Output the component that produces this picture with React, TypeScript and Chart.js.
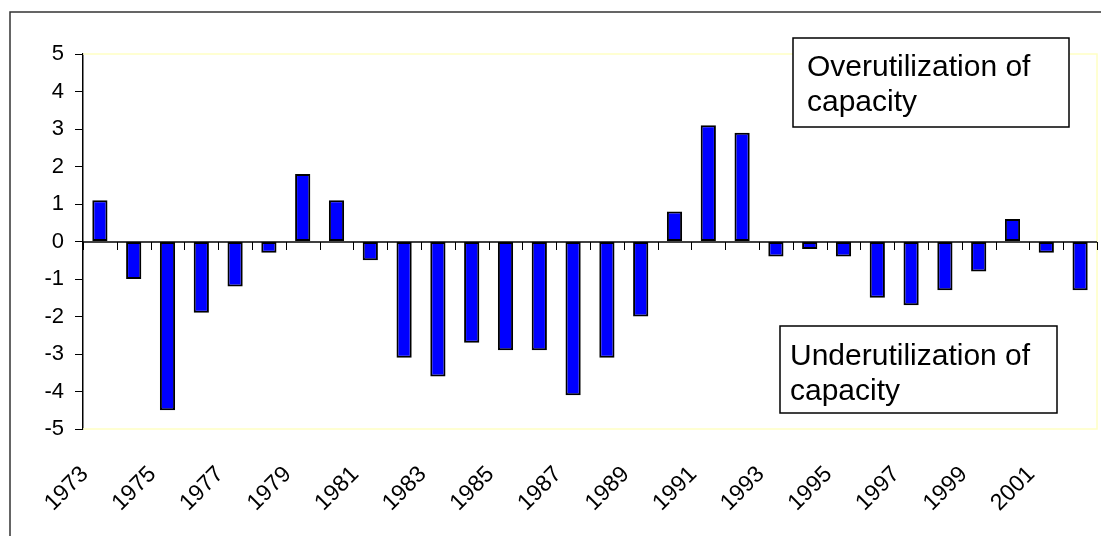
import React, { useEffect, useRef } from "react";
import { Chart, registerables } from "chart.js";

Chart.register(...registerables);

const years: string[] = [
  "1973", "1974", "1975", "1976", "1977", "1978", "1979", "1980", "1981", "1982",
  "1983", "1984", "1985", "1986", "1987", "1988", "1989", "1990", "1991", "1992",
  "1993", "1994", "1995", "1996", "1997", "1998", "1999", "2000", "2001", "2002",
];

const gapValues: number[] = [
  1.1, -1.0, -4.5, -1.9, -1.2, -0.3, 1.8, 1.1, -0.5, -3.1,
  -3.6, -2.7, -2.9, -2.9, -4.1, -3.1, -2.0, 0.8, 3.1, 2.9,
  -0.4, -0.2, -0.4, -1.5, -1.7, -1.3, -0.8, 0.6, -0.3, -1.3,
];

const yMin = -5;
const yMax = 5;
const yStep = 1;

const overLines: string[] = ["Overutilization of", "capacity"];
const underLines: string[] = ["Underutilization of", "capacity"];

const FONT = "'Liberation Sans', Arial, 'Helvetica', sans-serif";

const decorPlugin = {
  id: "decor",
  beforeDatasetsDraw(chart: any) {
    const { ctx, chartArea } = chart;
    ctx.save();
    ctx.strokeStyle = "#ffffc4";
    ctx.lineWidth = 1.5;
    ctx.beginPath();
    ctx.moveTo(chartArea.left, chartArea.top);
    ctx.lineTo(chartArea.right, chartArea.top);
    ctx.lineTo(chartArea.right, chartArea.bottom);
    ctx.lineTo(chartArea.left, chartArea.bottom);
    ctx.stroke();
    ctx.restore();
  },
  afterDatasetsDraw(chart: any) {
    const { ctx, chartArea } = chart;
    const xs = chart.scales.x;
    const ys = chart.scales.y;
    const y0 = Math.round(ys.getPixelForValue(0));
    ctx.save();
    ctx.strokeStyle = "#000";
    ctx.lineWidth = 1.5;
    ctx.beginPath();
    ctx.moveTo(chartArea.left, y0);
    ctx.lineTo(chartArea.right, y0);
    ctx.stroke();
    ctx.lineWidth = 1;
    ctx.beginPath();
    for (let i = 0; i <= years.length; i++) {
      const x = Math.round(xs.getPixelForValue(i - 0.5)) + 0.5;
      ctx.moveTo(x, y0);
      ctx.lineTo(x, y0 + 8);
    }
    ctx.stroke();
    ctx.restore();
  },
  afterDraw(chart: any) {
    const { ctx } = chart;
    ctx.save();
    // outer frame
    ctx.strokeStyle = "#333";
    ctx.lineWidth = 1.5;
    ctx.strokeRect(10, 12, 1200, 700);

    const drawBox = (x: number, y: number, w: number, h: number, tx: number, base: number, lines: string[]) => {
      ctx.fillStyle = "#fff";
      ctx.fillRect(x, y, w, h);
      ctx.strokeStyle = "#000";
      ctx.lineWidth = 1.5;
      ctx.strokeRect(x, y, w, h);
      ctx.fillStyle = "#000";
      ctx.font = `30px ${FONT}`;
      ctx.textAlign = "left";
      ctx.textBaseline = "alphabetic";
      lines.forEach((t, i) => ctx.fillText(t, tx, base + i * 35));
    };
    drawBox(793, 38, 276, 89, 807, 76, overLines);
    drawBox(780, 326, 277, 87, 790, 365, underLines);
    ctx.restore();
  },
};

export default function App() {
  const canvasRef = useRef<HTMLCanvasElement | null>(null);

  useEffect(() => {
    if (!canvasRef.current) return;
    Chart.defaults.font.family = FONT;
    const chart = new Chart(canvasRef.current, {
      type: "bar",
      data: {
        labels: years,
        datasets: [
          {
            data: gapValues,
            backgroundColor: "#0000ff",
            borderColor: "#000",
            borderWidth: 2,
            borderSkipped: false,
            barPercentage: 0.45,
            categoryPercentage: 1,
          },
        ],
      },
      options: {
        animation: false,
        responsive: true,
        maintainAspectRatio: false,
        layout: { padding: { left: 0, top: 54, right: 4, bottom: 0 } },
        plugins: { legend: { display: false }, tooltip: { enabled: false } },
        scales: {
          x: {
            offset: true,
            grid: { display: false, drawTicks: false },
            border: { display: false },
            ticks: {
              autoSkip: false,
              minRotation: 45,
              maxRotation: 45,
              padding: 32,
              labelOffset: -15,
              color: "#000",
              font: { size: 23 },
              callback: (_v: any, i: number) => (i % 2 === 0 ? years[i] : ""),
            },
            afterFit: (s: any) => {
              s.height = 107;
              s.paddingLeft = 0;
              s.paddingRight = 0;
            },
          },
          y: {
            min: yMin,
            max: yMax,
            grid: { drawOnChartArea: false, drawTicks: true, tickLength: 8, color: "#000" },
            border: { display: true, color: "#000", width: 1.5 },
            ticks: { stepSize: yStep, padding: 11, color: "#000", font: { size: 22 } },
            afterFit: (s: any) => {
              s.width = 83;
            },
          },
        },
      },
      plugins: [decorPlugin],
    });
    return () => chart.destroy();
  }, []);

  return (
    <div style={{ position: "absolute", left: 0, top: 0, width: 1101, height: 536, background: "#fff" }}>
      <canvas ref={canvasRef} />
    </div>
  );
}
